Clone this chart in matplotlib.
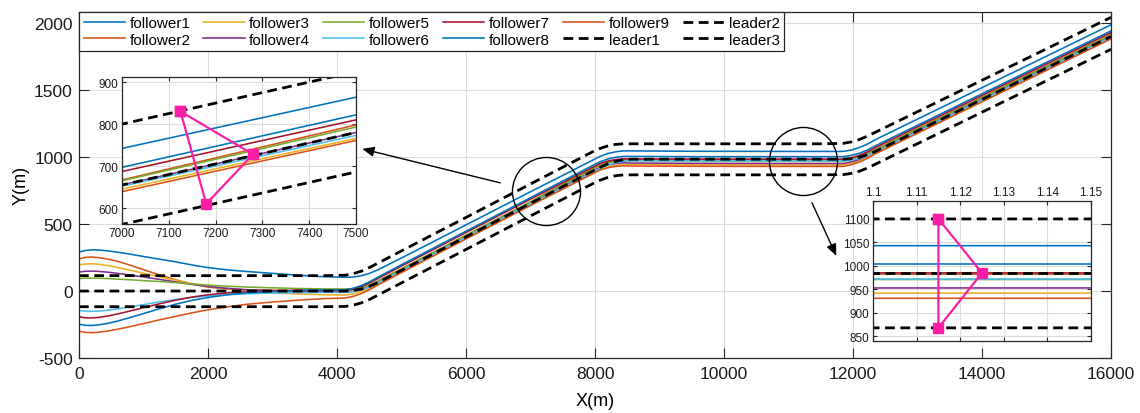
import numpy as np
import matplotlib.pyplot as plt
from matplotlib.ticker import FuncFormatter, MultipleLocator

plt.rcParams['font.family'] = ['Liberation Sans', 'DejaVu Sans']
plt.rcParams['axes.unicode_minus'] = False

# Puntos en X compartidos por todas las trayectorias (m)
x_grid = [0, 100, 200, 300, 450, 600, 800, 1000, 1250, 1500, 1750, 2000, 2300, 2600,
          3000, 3400, 3800, 4130, 4255, 4380, 4505, 4630, 5000, 6000, 7000, 7500, 8000,
          8070, 8195, 8320, 8445, 8570, 9500, 11000, 11500, 11850, 11975, 12100, 12225,
          12350, 13000, 14500, 16000]

# Trayectoria del leader1 (m)
y_leader1 = [0, 0, 0, 0, 0, 0, 0, 0, 0, 0, 0, 0, 0, 0, 0, 0, 0, 0, 3.9, 15.6, 35.2, 62.5,
             155, 405, 655, 780, 905, 922.5, 949.8, 969.4, 981.1, 985, 985, 985, 985, 985,
             988.7, 999.7, 1018.0, 1043.8, 1196.5, 1549, 1901.5]

# Separacion vertical respecto al leader1 (m)
gap_leader2 = [115, 115, 115, 115, 115, 115, 115, 115, 115, 115, 115, 115, 115, 115, 115,
               115, 115, 118.6, 126.1, 133.6, 141.1, 145, 145, 145, 145, 145, 144.4, 141.4,
               133.9, 126.4, 118.9, 115, 115, 115, 115, 118.4, 125.4, 132.5, 139.6, 143.2,
               143.2, 143.2, 143.2]
gap_leader3 = [-117, -117, -117, -117, -117, -117, -117, -117, -117, -117, -117, -117, -117,
               -117, -117, -117, -117, -114.9, -109.1, -103.4, -97.7, -94, -94, -94, -94, -94,
               -94.1, -96.1, -101.8, -107.6, -113.4, -117, -117, -117, -117, -115, -109.6,
               -104.2, -98.7, -95.4, -95.4, -95.4, -95.4]

gap_follower1 = [292, 303, 308, 307, 300, 290, 275, 258, 238, 218, 195, 175, 158, 146, 132,
                 118, 107, 103, 101, 99, 97, 95, 92, 89, 87, 84, 82, 82, 77, 71, 66, 62, 59,
                 58, 58, 58, 65, 73, 80, 88, 88, 88, 88]
gap_follower2 = [240, 252, 254, 250, 238, 222, 192, 160, 120, 84, 52, 30, 15, 9, 6, 5, 5,
                 5, 7, 8, 10, 11, 11, 11, 12, 18, 20, 20, 14, 8, 3, -1, -2, -2.5, -2.5,
                 -2.5, 2, 7, 11, 16, 16, 16, 16]
gap_follower3 = [195, 202, 204, 200, 190, 176, 155, 133, 106, 80, 56, 36, 16, 0, -14, -22,
                 -28, -30, -25, -20, -15, -12, -11, -10, -10, -14, -16, -16, -23, -30, -36,
                 -40, -42, -43, -43, -43, -35, -27, -20, -12, -12, -12, -12]
gap_follower4 = [142, 148, 149, 147, 141, 132, 119, 105, 87, 68, 50, 35, 20, 10, 2, -3, -6,
                 -8, -6, -4, -2, -1, 0, 0, 0, 0, 0, 0, -8, -16, -23, -29, -31, -32, -32,
                 -32, -24, -16, -8, 0, 0, 0, 0]
gap_follower5 = [93, 97, 97, 96, 93, 89, 84, 78, 71, 63, 53, 44, 36, 30, 24, 19, 16, 15, 14,
                 12, 11, 10, 10, 10, 10, 13, 14, 14, 7, 0, -6, -11, -13, -14, -14, -14, -7,
                 -1, 6, 12, 12, 12, 12]
gap_follower6 = [-145, -151, -152, -150, -143, -133, -118, -101, -81, -63, -48, -37, -27,
                 -20, -15, -12, -10, -10, -8, -6, -4, -3, -3, -3, -3, -7, -8, -8, -9, -10,
                 -11, -12, -12, -12, -12, -12, -10, -8.5, -7, -5, -5, -5, -5]
gap_follower7 = [-192, -200, -201, -197, -186, -171, -148, -124, -95, -68, -45, -28, -14, -5,
                 1, 4, 5, 5, 12, 19, 25, 30, 32, 32, 32, 30, 29, 29, 21, 13, 6, 1, 0, 0, 0,
                 0, 7, 15, 22, 30, 30, 30, 30]
gap_follower8 = [-248, -256, -257, -253, -241, -224, -197, -168, -132, -98, -70, -48, -28,
                 -14, -3, 4, 8, 9, 17, 26, 34, 40, 42, 42, 42, 42, 42, 42, 36, 30, 25, 21,
                 19, 19, 19, 19, 25, 30, 36, 42, 42, 42, 42]
gap_follower9 = [-300, -309, -311, -308, -298, -285, -265, -243, -215, -189, -163, -140, -118,
                 -99, -82, -68, -57, -52, -43, -34, -25, -19, -17, -16, -16, -19, -20, -20,
                 -29, -38, -46, -51, -53, -54, -54, -54, -45, -36, -27, -18, -18, -18, -18]

follower_gaps = [gap_follower1, gap_follower2, gap_follower3, gap_follower4, gap_follower5,
                 gap_follower6, gap_follower7, gap_follower8, gap_follower9]
follower_names = ['follower%d' % (i + 1) for i in range(9)]
follower_colors = ['#0072BD', '#D95319', '#EDB120', '#7E2F8E', '#77AC30', '#4DBEEE',
                   '#A2142F', '#0072BD', '#D95319']

# Formacion de los lideres en cada zoom
left_tri_x = [7125, 7280, 7180, 7125]
left_tri_y = [830, 728, 610, 830]
right_tri_x = [11150, 11250, 11150, 11150]
right_tri_y = [1100, 985, 868, 1100]

# Circulos y flechas de los zooms
circle_x = [7240, 11225]
circle_y = [750, 972]
arrow_tail = [(6532, 808), (11364, 659)]
arrow_head = [(4392, 1062), (11741, 263)]

DARK = '#262626'
PINK = '#F91FA6'


def draw_lines(a):
    # Dibujamos seguidores y lideres
    x = np.array(x_grid)
    base = np.array(y_leader1)
    for name, gap, c in zip(follower_names, follower_gaps, follower_colors):
        a.plot(x, base + np.array(gap), color=c, lw=1.15, label=name)
    a.plot(x, base, color='k', ls='--', lw=2, dashes=(3.5, 2), label='leader1')
    a.plot(x, base + np.array(gap_leader2), color='k', lw=2, dashes=(3.5, 2), label='leader2')
    a.plot(x, base + np.array(gap_leader3), color='k', lw=2, dashes=(3.5, 2), label='leader3')


def style_axes(a, size, length):
    a.grid(True, color='#dcdcdc', lw=0.8)
    a.set_axisbelow(True)
    a.tick_params(direction='in', top=True, right=True, labelsize=size,
                  length=length, color=DARK, labelcolor='#1a1a1a')
    for s in a.spines.values():
        s.set_color(DARK)
        s.set_linewidth(0.9)


fig = plt.figure(figsize=(11.4, 4.14), dpi=100)

# Grafico principal
ax = fig.add_axes([0.0693, 0.1329, 0.9053, 0.8365])
draw_lines(ax)
ax.plot(circle_x, circle_y, 'o', ls='none', ms=49, mfc='none', mec='k', mew=1.0)
for tail, head in zip(arrow_tail, arrow_head):
    ax.annotate('', xy=head, xytext=tail,
                arrowprops=dict(arrowstyle='-|>,head_length=0.7,head_width=0.3',
                                color='k', lw=1.0, shrinkA=0, shrinkB=0))
ax.set_xlim(0, 16000)
ax.set_ylim(-500, 2087)
ax.xaxis.set_major_locator(MultipleLocator(2000))
ax.yaxis.set_major_locator(MultipleLocator(500))
style_axes(ax, 12.5, 7)
ax.tick_params(axis='x', pad=6)
ax.tick_params(axis='y', pad=4.5)
ax.set_xlabel('X(m)', fontsize=13)
ax.set_ylabel('Y(m)', fontsize=13)
ax.xaxis.set_label_coords(0.5, -0.098)
ax.yaxis.set_label_coords(-0.048, 0.5)
leg = ax.legend(ncol=6, loc='upper left', bbox_to_anchor=(0, 1), fontsize=11,
                handlelength=2.7, handletextpad=0.3, columnspacing=0.85,
                labelspacing=0.15, borderpad=0.3, borderaxespad=0,
                fancybox=False, edgecolor=DARK, framealpha=1)
leg.get_frame().set_linewidth(0.9)

# Zoom izquierdo
ax1 = fig.add_axes([0.107, 0.4565, 0.2053, 0.355])
draw_lines(ax1)
ax1.plot(left_tri_x, left_tri_y, '-s', color=PINK, lw=1.6, ms=6.5)
ax1.set_xlim(7000, 7500)
ax1.set_ylim(562, 912)
ax1.xaxis.set_major_locator(MultipleLocator(100))
ax1.yaxis.set_major_locator(MultipleLocator(100))
style_axes(ax1, 8.5, 3)
ax1.tick_params(pad=2.5)

# Zoom derecho
ax2 = fig.add_axes([0.7658, 0.1739, 0.1912, 0.338])
draw_lines(ax2)
ax2.plot(right_tri_x, right_tri_y, '-s', color=PINK, lw=1.6, ms=6.5)
ax2.set_xlim(11000, 11500)
ax2.set_ylim(840, 1138)
ax2.xaxis.set_major_locator(MultipleLocator(100))
ax2.yaxis.set_major_locator(MultipleLocator(50))
ax2.xaxis.set_major_formatter(FuncFormatter(lambda v, p: f'{v / 1e4:g}'))
style_axes(ax2, 8.5, 3)
ax2.tick_params(axis='x', labeltop=True, labelbottom=False)
ax2.tick_params(pad=2.5)

fig.savefig('out.png', dpi=100)
